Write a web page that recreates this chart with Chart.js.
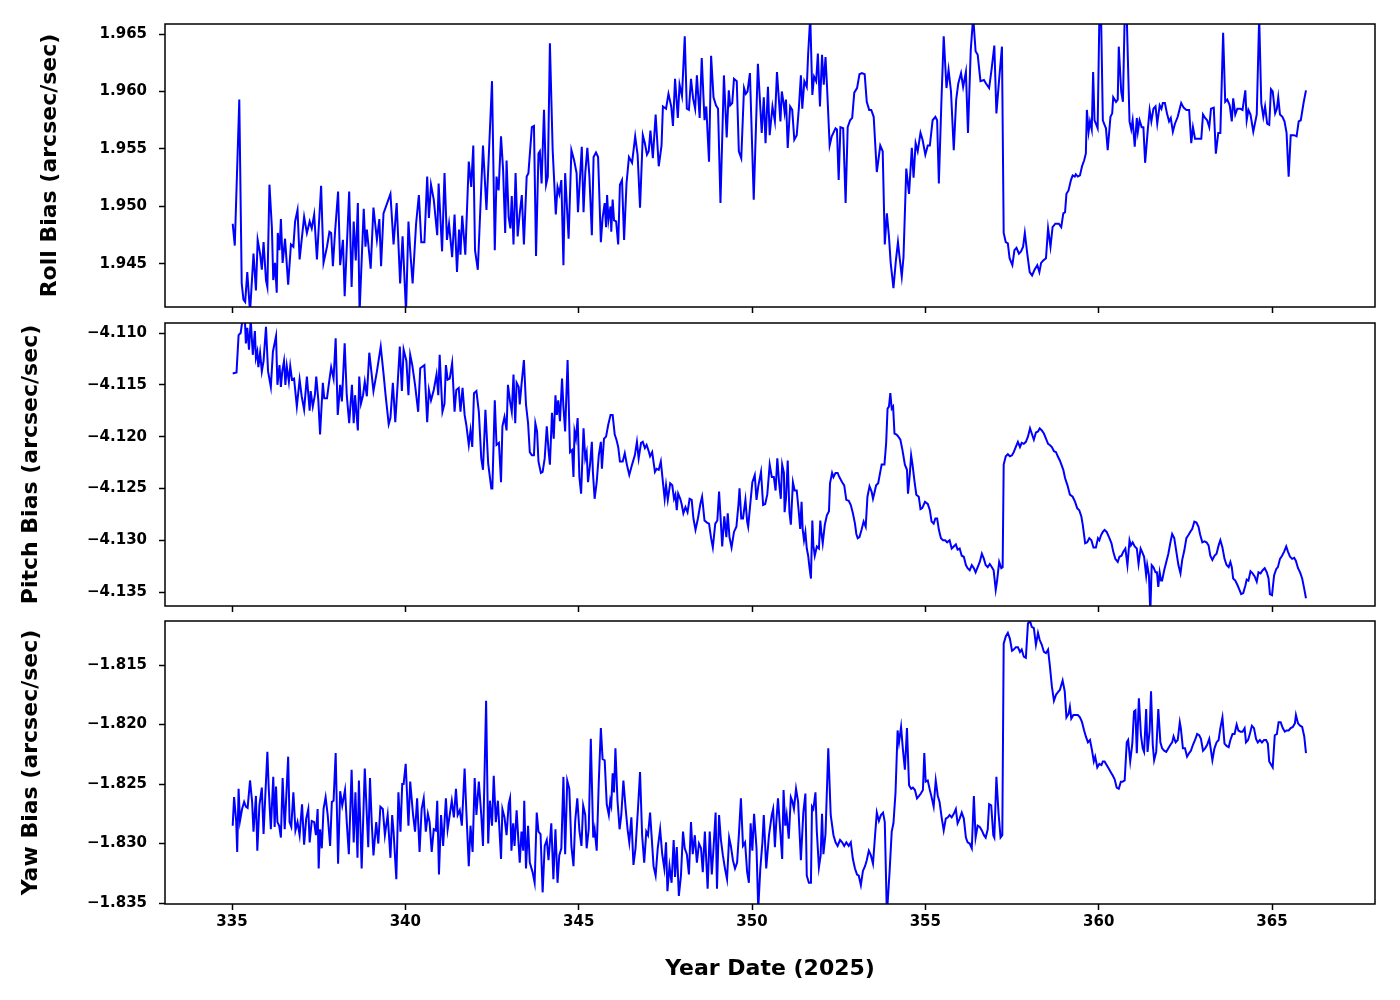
<!DOCTYPE html>
<html>
<head>
<meta charset="utf-8">
<title>Gyro Bias</title>
<script src="https://cdn.jsdelivr.net/npm/chart.js@4.4.1/dist/chart.umd.min.js"></script>
<style>
  html, body { margin: 0; padding: 0; background: #fff; }
  #wrap { position: relative; width: 1400px; height: 1000px; }
  #wrap canvas { position: absolute; left: 0; top: 0; }
</style>
</head>
<body>
<div id="wrap">
  <canvas id="rollChart" width="1400" height="1000"></canvas>
  <canvas id="pitchChart" width="1400" height="1000"></canvas>
  <canvas id="yawChart" width="1400" height="1000"></canvas>
</div>
<script>
// day of year (2025), bias value in arcsec/sec
const rollBias = [
  [335.02,1.9485],[335.08,1.9466],[335.21,1.9593],[335.28,1.9433],[335.33,1.9419],[335.38,1.9417],[335.44,1.9443],
  [335.52,1.9408],[335.62,1.9459],[335.69,1.9427],[335.74,1.9471],[335.81,1.9459],[335.86,1.9445],[335.91,1.9469],
  [335.98,1.9436],[336.02,1.9430],[336.08,1.9519],[336.15,1.9482],[336.19,1.9436],[336.24,1.9451],[336.29,1.9425],
  [336.32,1.9477],[336.37,1.9462],[336.41,1.9489],[336.46,1.9451],[336.53,1.9472],[336.62,1.9432],[336.70,1.9467],
  [336.77,1.9465],[336.82,1.9487],[336.89,1.9497],[336.95,1.9454],[337.08,1.9491],[337.16,1.9477],[337.24,1.9487],
  [337.30,1.9481],[337.37,1.9493],[337.45,1.9454],[337.57,1.9518],[337.64,1.9451],[337.74,1.9465],[337.81,1.9478],
  [337.86,1.9477],[337.91,1.9448],[337.97,1.9477],[338.06,1.9513],[338.12,1.9449],[338.20,1.9471],[338.25,1.9422],
  [338.38,1.9513],[338.45,1.9430],[338.51,1.9487],[338.57,1.9453],[338.63,1.9503],[338.68,1.9408],[338.80,1.9498],
  [338.85,1.9465],[338.89,1.9480],[339.00,1.9446],[339.08,1.9499],[339.18,1.9471],[339.25,1.9489],[339.30,1.9448],
  [339.37,1.9494],[339.57,1.9511],[339.66,1.9467],[339.75,1.9503],[339.85,1.9433],[339.92,1.9474],[340.02,1.9408],
  [340.09,1.9487],[340.14,1.9462],[340.21,1.9433],[340.31,1.9485],[340.39,1.9510],[340.46,1.9469],[340.55,1.9469],
  [340.63,1.9526],[340.68,1.9490],[340.74,1.9519],[340.82,1.9506],[340.92,1.9475],[340.96,1.9520],[341.06,1.9461],
  [341.13,1.9529],[341.20,1.9471],[341.26,1.9485],[341.35,1.9456],[341.42,1.9493],[341.49,1.9443],[341.55,1.9480],
  [341.59,1.9458],[341.64,1.9492],[341.73,1.9458],[341.83,1.9539],[341.90,1.9517],[341.96,1.9553],[342.01,1.9462],
  [342.09,1.9445],[342.24,1.9553],[342.34,1.9497],[342.50,1.9609],[342.58,1.9462],
  [342.63,1.9526],[342.69,1.9514],[342.76,1.9561],[342.82,1.9532],[342.88,1.9477],[342.92,1.9540],[342.98,1.9491],
  [343.03,1.9481],[343.07,1.9509],[343.12,1.9467],[343.18,1.9529],[343.24,1.9474],[343.30,1.9494],[343.36,1.9510],
  [343.42,1.9467],[343.50,1.9526],[343.55,1.9529],[343.65,1.9569],[343.71,1.9570],[343.77,1.9457],[343.84,1.9546],
  [343.88,1.9548],[343.93,1.9520],[344.00,1.9584],[344.06,1.9519],[344.11,1.9526],[344.17,1.9642],[344.25,1.9549],
  [344.34,1.9493],[344.39,1.9517],[344.44,1.9511],[344.50,1.9523],[344.56,1.9449],[344.61,1.9529],[344.71,1.9472],
  [344.79,1.9549],[344.87,1.9540],[344.94,1.9529],[344.98,1.9495],[345.09,1.9552],[345.14,1.9495],[345.19,1.9529],
  [345.25,1.9551],[345.31,1.9526],[345.38,1.9475],[345.43,1.9543],[345.50,1.9547],[345.56,1.9543],[345.64,1.9469],
  [345.69,1.9490],[345.75,1.9503],[345.79,1.9482],[345.82,1.9510],[345.86,1.9488],[345.92,1.9500],[345.94,1.9478],
  [345.98,1.9506],[346.02,1.9488],[346.08,1.9487],[346.14,1.9467],[346.19,1.9519],[346.25,1.9523],[346.31,1.9471],
  [346.38,1.9520],[346.45,1.9543],[346.54,1.9538],[346.63,1.9561],[346.70,1.9545],[346.77,1.9499],[346.85,1.9562],
  [346.91,1.9555],[346.97,1.9545],[347.02,1.9548],[347.07,1.9566],[347.14,1.9542],[347.22,1.9580],[347.31,1.9535],
  [347.39,1.9553],[347.43,1.9587],[347.52,1.9585],[347.59,1.9598],[347.67,1.9587],[347.72,1.9570],[347.78,1.9611],
  [347.86,1.9577],[347.91,1.9606],[347.98,1.9596],[348.06,1.9648],[348.12,1.9585],[348.18,1.9584],[348.24,1.9611],
  [348.30,1.9594],[348.36,1.9585],[348.41,1.9614],[348.49,1.9577],[348.55,1.9629],[348.63,1.9575],[348.68,1.9587],
  [348.76,1.9539],[348.82,1.9631],[348.89,1.9595],[348.96,1.9588],[349.02,1.9585],[349.09,1.9503],[349.19,1.9614],
  [349.27,1.9560],[349.33,1.9601],[349.37,1.9588],[349.43,1.9590],[349.48,1.9611],[349.56,1.9609],[349.62,1.9548],
  [349.69,1.9542],[349.77,1.9603],[349.82,1.9598],[349.87,1.9600],[349.94,1.9616],[350.05,1.9506],[350.17,1.9624],
  [350.28,1.9564],[350.34,1.9595],[350.39,1.9555],[350.46,1.9604],[350.51,1.9562],[350.59,1.9587],[350.66,1.9574],
  [350.72,1.9617],
  [350.82,1.9574],[350.86,1.9600],[350.91,1.9590],[350.94,1.9582],[350.98,1.9593],[351.03,1.9551],[351.10,1.9587],
  [351.16,1.9584],[351.22,1.9558],[351.29,1.9562],[351.35,1.9585],[351.41,1.9614],[351.45,1.9585],[351.51,1.9609],
  [351.58,1.9604],[351.62,1.9633],[351.68,1.9665],[351.74,1.9597],[351.79,1.9613],[351.85,1.9609],[351.90,1.9633],
  [351.96,1.9587],[352.02,1.9632],[352.07,1.9606],[352.12,1.9630],[352.16,1.9607],[352.24,1.9553],[352.30,1.9561],
  [352.41,1.9568],[352.45,1.9567],[352.50,1.9523],[352.55,1.9569],[352.63,1.9568],[352.70,1.9503],[352.76,1.9569],
  [352.83,1.9575],[352.89,1.9577],[352.95,1.9599],[353.03,1.9603],[353.10,1.9615],[353.17,1.9616],[353.25,1.9615],
  [353.31,1.9591],[353.38,1.9584],[353.44,1.9584],[353.51,1.9578],[353.60,1.9530],[353.70,1.9553],[353.77,1.9548],
  [353.83,1.9467],[353.89,1.9494],[353.95,1.9474],[354.00,1.9451],[354.08,1.9429],[354.15,1.9453],[354.21,1.9469],
  [354.26,1.9455],[354.32,1.9439],[354.37,1.9456],[354.45,1.9533],[354.53,1.9511],[354.61,1.9551],[354.66,1.9525],
  [354.72,1.9555],[354.78,1.9548],[354.86,1.9564],[354.92,1.9558],[355.00,1.9545],[355.07,1.9553],[355.13,1.9553],
  [355.21,1.9575],[355.29,1.9578],[355.34,1.9575],[355.39,1.9520],[355.46,1.9588],[355.53,1.9648],[355.61,1.9603],
  [355.67,1.9619],[355.74,1.9600],[355.82,1.9549],[355.89,1.9593],[355.95,1.9607],[356.03,1.9616],[356.09,1.9604],
  [356.17,1.9617],[356.23,1.9564],[356.31,1.9636],[356.38,1.9665],[356.45,1.9635],[356.51,1.9632],[356.59,1.9609],
  [356.69,1.9610],[356.75,1.9607],[356.84,1.9603],[356.91,1.9619],[356.99,1.9640],[357.05,1.9581],[357.13,1.9611],
  [357.21,1.9639],[357.26,1.9477],[357.32,1.9469],[357.38,1.9468],[357.43,1.9455],[357.51,1.9449],[357.57,1.9462],
  [357.63,1.9464],[357.70,1.9459],[357.76,1.9461],[357.82,1.9465],[357.87,1.9477],[357.94,1.9459],[358.01,1.9443],
  [358.08,1.9440],[358.15,1.9445],[358.23,1.9449],[358.29,1.9443],[358.34,1.9451],[358.40,1.9453],[358.48,1.9455],
  [358.54,1.9481],[358.61,1.9465],[358.67,1.9482],[358.75,1.9485],[358.85,1.9485],
  [358.92,1.9482],[358.98,1.9494],[359.03,1.9495],[359.07,1.9511],[359.13,1.9514],[359.20,1.9523],[359.25,1.9527],
  [359.31,1.9526],[359.34,1.9528],[359.40,1.9526],[359.46,1.9527],[359.52,1.9535],[359.58,1.9540],[359.63,1.9546],
  [359.66,1.9584],[359.71,1.9565],[359.75,1.9574],[359.80,1.9567],[359.84,1.9617],[359.88,1.9575],[359.92,1.9572],
  [359.97,1.9568],[360.02,1.9665],[360.07,1.9665],[360.12,1.9575],[360.17,1.9571],[360.21,1.9568],[360.26,1.9549],
  [360.34,1.9578],[360.39,1.9581],[360.42,1.9595],[360.50,1.9591],[360.55,1.9593],[360.58,1.9639],[360.65,1.9600],
  [360.70,1.9591],[360.75,1.9665],[360.81,1.9665],[360.89,1.9574],[360.94,1.9567],[360.98,1.9575],[361.04,1.9552],
  [361.10,1.9577],[361.13,1.9565],[361.18,1.9575],[361.24,1.9569],[361.29,1.9569],[361.34,1.9538],[361.42,1.9568],
  [361.47,1.9584],[361.52,1.9574],[361.58,1.9585],[361.64,1.9587],[361.69,1.9572],[361.76,1.9588],[361.81,1.9585],
  [361.85,1.9590],[361.91,1.9590],[361.97,1.9581],[362.03,1.9574],[362.08,1.9577],[362.14,1.9565],[362.20,1.9572],
  [362.28,1.9578],[362.38,1.9590],[362.45,1.9586],[362.53,1.9584],[362.61,1.9584],[362.67,1.9555],[362.72,1.9569],
  [362.78,1.9559],[362.84,1.9559],[362.96,1.9559],[363.01,1.9580],[363.07,1.9577],[363.13,1.9575],[363.19,1.9569],
  [363.24,1.9585],[363.32,1.9586],[363.38,1.9546],[363.45,1.9564],[363.51,1.9564],[363.59,1.9651],[363.65,1.9591],
  [363.71,1.9593],[363.78,1.9588],[363.84,1.9574],[363.88,1.9594],[363.94,1.9580],[364.00,1.9585],[364.09,1.9585],
  [364.15,1.9584],[364.23,1.9601],[364.27,1.9575],[364.32,1.9584],[364.38,1.9580],[364.46,1.9565],[364.52,1.9574],
  [364.56,1.9580],[364.63,1.9665],[364.69,1.9590],[364.75,1.9578],[364.80,1.9587],[364.86,1.9572],[364.92,1.9571],
  [364.97,1.9602],[365.02,1.9600],[365.09,1.9581],[365.14,1.9585],[365.18,1.9595],[365.23,1.9580],[365.30,1.9578],
  [365.36,1.9574],[365.42,1.9564],[365.48,1.9526],[365.54,1.9562],[365.64,1.9562],[365.71,1.9561],[365.77,1.9574],
  [365.83,1.9575],[365.91,1.9590],[365.98,1.9601]
];

const pitchBias = [
  [335.02,-4.1139],[335.13,-4.1138],[335.19,-4.1102],[335.25,-4.1100],[335.31,-4.1085],[335.37,-4.1086],[335.40,-4.1110],
  [335.44,-4.1095],[335.49,-4.1116],[335.54,-4.1087],[335.60,-4.1121],[335.66,-4.1098],[335.69,-4.1124],[335.73,-4.1118],
  [335.76,-4.1133],[335.81,-4.1119],[335.86,-4.1137],[335.91,-4.1127],[335.98,-4.1094],[336.04,-4.1137],[336.12,-4.1152],
  [336.18,-4.1118],[336.21,-4.1113],[336.27,-4.1103],[336.31,-4.1150],[336.37,-4.1131],[336.41,-4.1152],[336.45,-4.1137],
  [336.50,-4.1127],[336.54,-4.1150],[336.58,-4.1132],[336.64,-4.1147],[336.68,-4.1132],[336.73,-4.1145],[336.79,-4.1144],
  [336.87,-4.1171],[336.95,-4.1145],[337.01,-4.1161],[337.08,-4.1174],[337.16,-4.1142],[337.24,-4.1175],[337.27,-4.1156],
  [337.33,-4.1171],[337.39,-4.1160],[337.43,-4.1142],[337.49,-4.1165],[337.54,-4.1198],[337.62,-4.1148],[337.66,-4.1163],
  [337.74,-4.1163],[337.79,-4.1150],[337.86,-4.1133],[337.93,-4.1144],[337.99,-4.1105],[338.05,-4.1179],[338.12,-4.1150],
  [338.17,-4.1166],[338.25,-4.1110],[338.31,-4.1160],[338.38,-4.1187],[338.46,-4.1150],[338.51,-4.1187],[338.55,-4.1160],
  [338.63,-4.1194],[338.67,-4.1142],[338.72,-4.1168],[338.78,-4.1160],[338.83,-4.1147],[338.89,-4.1161],[338.96,-4.1119],
  [339.01,-4.1134],[339.08,-4.1156],[339.18,-4.1137],[339.29,-4.1113],[339.37,-4.1139],[339.43,-4.1160],[339.52,-4.1188],
  [339.57,-4.1182],[339.64,-4.1148],[339.71,-4.1186],[339.78,-4.1148],[339.84,-4.1113],[339.90,-4.1156],[339.95,-4.1116],
  [340.03,-4.1127],[340.09,-4.1160],[340.14,-4.1121],[340.20,-4.1131],[340.28,-4.1150],[340.37,-4.1176],[340.43,-4.1134],
  [340.55,-4.1131],[340.63,-4.1186],[340.68,-4.1155],[340.74,-4.1165],[340.82,-4.1155],[340.90,-4.1140],[340.95,-4.1160],
  [340.99,-4.1121],[341.07,-4.1176],[341.13,-4.1168],[341.17,-4.1131],[341.22,-4.1145],[341.28,-4.1144],[341.35,-4.1129],
  [341.42,-4.1176],[341.47,-4.1155],[341.54,-4.1153],[341.59,-4.1176],[341.65,-4.1153],[341.71,-4.1179],[341.76,-4.1189],
  [341.83,-4.1208],[341.88,-4.1194],[341.93,-4.1210],[341.98,-4.1158],[342.05,-4.1156],[342.12,-4.1176],[342.19,-4.1221],
  [342.24,-4.1232],[342.31,-4.1174],[342.39,-4.1226],[342.48,-4.1250],[342.51,-4.1250],[342.58,-4.1165],[342.63,-4.1208],
  [342.70,-4.1206],
  [342.76,-4.1244],[342.80,-4.1190],[342.86,-4.1181],[342.92,-4.1194],[342.96,-4.1150],[343.02,-4.1166],[343.07,-4.1176],
  [343.12,-4.1140],[343.17,-4.1187],[343.21,-4.1148],[343.27,-4.1152],[343.30,-4.1169],[343.35,-4.1150],[343.42,-4.1126],
  [343.48,-4.1169],[343.54,-4.1187],[343.59,-4.1215],[343.65,-4.1218],[343.71,-4.1218],[343.75,-4.1187],[343.80,-4.1195],
  [343.84,-4.1224],[343.91,-4.1235],[343.96,-4.1234],[344.02,-4.1221],[344.08,-4.1190],[344.13,-4.1213],[344.17,-4.1227],
  [344.23,-4.1177],[344.28,-4.1202],[344.33,-4.1160],[344.37,-4.1179],[344.41,-4.1165],[344.46,-4.1185],[344.52,-4.1144],
  [344.56,-4.1171],[344.61,-4.1195],[344.68,-4.1126],[344.75,-4.1215],[344.81,-4.1213],[344.85,-4.1239],[344.88,-4.1195],
  [344.92,-4.1202],[344.97,-4.1182],[345.02,-4.1239],[345.07,-4.1255],[345.14,-4.1192],[345.19,-4.1221],[345.23,-4.1215],
  [345.27,-4.1244],[345.33,-4.1226],[345.38,-4.1205],[345.41,-4.1234],[345.46,-4.1260],[345.52,-4.1244],[345.58,-4.1218],
  [345.64,-4.1205],[345.67,-4.1231],[345.73,-4.1202],[345.79,-4.1200],[345.85,-4.1189],[345.92,-4.1179],[345.98,-4.1179],
  [346.04,-4.1198],[346.09,-4.1203],[346.14,-4.1210],[346.19,-4.1224],[346.27,-4.1224],[346.33,-4.1216],[346.39,-4.1227],
  [346.46,-4.1237],[346.54,-4.1227],[346.62,-4.1218],[346.68,-4.1205],[346.73,-4.1221],[346.80,-4.1206],[346.85,-4.1205],
  [346.91,-4.1211],[346.96,-4.1208],[347.01,-4.1213],[347.06,-4.1219],[347.12,-4.1215],[347.20,-4.1234],[347.25,-4.1231],
  [347.31,-4.1232],[347.37,-4.1224],[347.43,-4.1244],[347.48,-4.1260],[347.52,-4.1247],[347.57,-4.1261],[347.64,-4.1245],
  [347.70,-4.1247],[347.75,-4.1260],[347.79,-4.1256],[347.83,-4.1271],[347.87,-4.1255],[347.93,-4.1260],[347.97,-4.1265],
  [348.02,-4.1274],[348.08,-4.1268],[348.14,-4.1273],[348.20,-4.1260],[348.26,-4.1261],[348.31,-4.1279],[348.37,-4.1290],
  [348.44,-4.1279],[348.51,-4.1265],[348.56,-4.1258],[348.63,-4.1281],[348.70,-4.1283],[348.76,-4.1284],[348.82,-4.1298],
  [348.87,-4.1307],[348.94,-4.1284],[349.00,-4.1281],[349.05,-4.1253],[349.10,-4.1282],[349.14,-4.1306],[349.20,-4.1277],
  [349.26,-4.1297],[349.30,-4.1274],[349.35,-4.1297],[349.41,-4.1307],[349.48,-4.1292],[349.55,-4.1287],[349.61,-4.1265],
  [349.64,-4.1250],[349.69,-4.1279],[349.74,-4.1279],[349.81,-4.1261],[349.86,-4.1282],[349.89,-4.1287],[349.95,-4.1265],
  [350.01,-4.1244],[350.08,-4.1237],[350.13,-4.1261],[350.18,-4.1248],[350.26,-4.1234],[350.32,-4.1266],[350.38,-4.1265],
  [350.44,-4.1256],[350.51,-4.1227],[350.57,-4.1239],[350.63,-4.1239],[350.68,-4.1252],[350.73,-4.1221],[350.78,-4.1244],
  [350.83,-4.1260],[350.87,-4.1227],[350.92,-4.1235],[350.94,-4.1273],[350.98,-4.1260],[351.03,-4.1223],[351.08,-4.1273],
  [351.12,-4.1285],[351.18,-4.1244],[351.23,-4.1252],[351.29,-4.1252],[351.35,-4.1273],[351.39,-4.1289],[351.43,-4.1263],
  [351.46,-4.1289],[351.50,-4.1300],[351.54,-4.1292],[351.58,-4.1308],[351.62,-4.1315],[351.66,-4.1327],[351.70,-4.1337],
  [351.74,-4.1281],[351.77,-4.1305],[351.81,-4.1315],[351.87,-4.1306],[351.93,-4.1308],[351.97,-4.1281],[352.00,-4.1292],
  [352.04,-4.1303],[352.10,-4.1285],[352.16,-4.1276],[352.22,-4.1272],[352.25,-4.1245],[352.31,-4.1235],[352.35,-4.1239],
  [352.41,-4.1235],[352.47,-4.1235],[352.52,-4.1239],[352.60,-4.1244],[352.66,-4.1247],[352.72,-4.1261],[352.79,-4.1262],
  [352.85,-4.1266],[352.91,-4.1274],[352.97,-4.1284],[353.01,-4.1294],[353.05,-4.1298],[353.10,-4.1297],[353.16,-4.1290],
  [353.22,-4.1282],[353.28,-4.1287],[353.33,-4.1258],[353.39,-4.1248],[353.45,-4.1253],[353.49,-4.1260],[353.54,-4.1253],
  [353.58,-4.1247],[353.64,-4.1245],[353.70,-4.1234],[353.74,-4.1227],[353.82,-4.1227],[353.87,-4.1206],[353.91,-4.1173],
  [353.95,-4.1171],[353.99,-4.1158],[354.03,-4.1173],[354.07,-4.1171],[354.11,-4.1197],[354.17,-4.1198],[354.22,-4.1200],
  [354.28,-4.1203],[354.34,-4.1213],[354.41,-4.1227],[354.47,-4.1232],[354.50,-4.1255],[354.55,-4.1237],[354.59,-4.1218],
  [354.63,-4.1227],[354.69,-4.1244],[354.74,-4.1256],[354.81,-4.1258],[354.86,-4.1270],[354.91,-4.1269],[354.99,-4.1263],
  [355.07,-4.1265],[355.13,-4.1271],[355.18,-4.1282],[355.24,-4.1284],[355.29,-4.1279],[355.34,-4.1279],[355.39,-4.1290],
  [355.45,-4.1298],[355.51,-4.1300],[355.57,-4.1300],[355.63,-4.1302],[355.70,-4.1300],[355.76,-4.1308],[355.82,-4.1306],
  [355.88,-4.1304],[355.93,-4.1309],[355.99,-4.1308],[356.05,-4.1315],[356.11,-4.1316],[356.17,-4.1324],[356.22,-4.1327],
  [356.28,-4.1329],[356.34,-4.1324],[356.40,-4.1327],[356.45,-4.1331],[356.51,-4.1326],[356.57,-4.1321],[356.63,-4.1313],
  [356.69,-4.1318],[356.74,-4.1324],[356.80,-4.1326],[356.86,-4.1323],[356.92,-4.1326],[356.97,-4.1329],[357.03,-4.1348],
  [357.07,-4.1339],[357.13,-4.1321],[357.19,-4.1327],[357.23,-4.1326],[357.26,-4.1227],[357.32,-4.1219],[357.38,-4.1217],
  [357.44,-4.1219],[357.50,-4.1218],[357.55,-4.1215],[357.61,-4.1210],[357.67,-4.1205],[357.73,-4.1210],[357.78,-4.1206],
  [357.84,-4.1207],[357.90,-4.1205],[357.96,-4.1200],[358.02,-4.1192],[358.07,-4.1197],[358.13,-4.1203],[358.19,-4.1196],
  [358.25,-4.1195],[358.30,-4.1192],[358.36,-4.1194],[358.42,-4.1197],[358.48,-4.1202],[358.54,-4.1207],[358.59,-4.1208],
  [358.65,-4.1210],[358.71,-4.1214],[358.77,-4.1215],[358.82,-4.1219],[358.88,-4.1223],
  [358.98,-4.1232],[359.03,-4.1240],[359.10,-4.1247],[359.17,-4.1256],[359.25,-4.1258],[359.32,-4.1263],[359.38,-4.1269],
  [359.44,-4.1271],[359.50,-4.1277],[359.54,-4.1285],[359.58,-4.1295],[359.61,-4.1303],[359.67,-4.1302],[359.73,-4.1298],
  [359.79,-4.1300],[359.85,-4.1307],[359.92,-4.1307],[359.98,-4.1298],[360.02,-4.1300],[360.07,-4.1295],[360.12,-4.1292],
  [360.17,-4.1290],[360.23,-4.1292],[360.31,-4.1298],[360.37,-4.1303],[360.42,-4.1311],[360.48,-4.1318],[360.55,-4.1321],
  [360.60,-4.1316],[360.66,-4.1315],[360.71,-4.1311],[360.77,-4.1308],[360.83,-4.1324],[360.89,-4.1300],[360.93,-4.1305],
  [360.98,-4.1302],[361.04,-4.1306],[361.10,-4.1308],[361.15,-4.1323],[361.21,-4.1308],[361.25,-4.1311],[361.31,-4.1316],
  [361.37,-4.1334],[361.40,-4.1324],[361.45,-4.1334],[361.49,-4.1370],[361.53,-4.1324],[361.58,-4.1326],[361.64,-4.1331],
  [361.68,-4.1331],[361.72,-4.1345],[361.76,-4.1331],[361.80,-4.1339],[361.83,-4.1339],[361.89,-4.1329],[361.95,-4.1321],
  [362.01,-4.1313],[362.07,-4.1302],[362.12,-4.1294],[362.18,-4.1298],[362.24,-4.1311],[362.30,-4.1324],[362.36,-4.1332],
  [362.41,-4.1319],[362.47,-4.1310],[362.53,-4.1298],[362.59,-4.1295],[362.64,-4.1292],[362.70,-4.1289],[362.76,-4.1282],
  [362.82,-4.1283],[362.88,-4.1287],[362.93,-4.1295],[362.99,-4.1302],[363.05,-4.1301],[363.11,-4.1302],[363.17,-4.1305],
  [363.22,-4.1315],[363.28,-4.1319],[363.34,-4.1315],[363.40,-4.1313],[363.46,-4.1305],[363.51,-4.1300],[363.57,-4.1307],
  [363.63,-4.1318],[363.69,-4.1324],[363.75,-4.1326],[363.80,-4.1321],[363.84,-4.1326],[363.88,-4.1337],[363.94,-4.1339],
  [364.00,-4.1343],[364.05,-4.1347],[364.11,-4.1352],[364.17,-4.1351],[364.23,-4.1344],[364.27,-4.1338],[364.32,-4.1339],
  [364.38,-4.1330],[364.44,-4.1332],[364.50,-4.1335],[364.56,-4.1340],[364.61,-4.1331],[364.67,-4.1332],[364.73,-4.1329],
  [364.79,-4.1327],[364.85,-4.1331],[364.90,-4.1337],[364.94,-4.1352],[365.00,-4.1353],[365.06,-4.1334],[365.12,-4.1328],
  [365.17,-4.1326],[365.23,-4.1318],[365.29,-4.1315],[365.35,-4.1311],[365.41,-4.1306],[365.46,-4.1311],[365.52,-4.1316],
  [365.58,-4.1318],[365.64,-4.1317],[365.69,-4.1320],[365.75,-4.1327],[365.81,-4.1331],[365.87,-4.1337],[365.93,-4.1347],
  [365.98,-4.1356]
];

const yawBias = [
  [335.02,-1.8285],[335.06,-1.8261],[335.12,-1.8281],[335.15,-1.8307],[335.19,-1.8254],[335.23,-1.8281],[335.29,-1.8271],
  [335.35,-1.8265],[335.40,-1.8269],[335.45,-1.8270],[335.52,-1.8247],[335.58,-1.8265],[335.62,-1.8290],[335.69,-1.8260],
  [335.73,-1.8306],[335.79,-1.8268],[335.86,-1.8253],[335.91,-1.8292],[335.96,-1.8260],[336.02,-1.8223],[336.06,-1.8254],
  [336.12,-1.8288],[336.19,-1.8244],[336.23,-1.8286],[336.27,-1.8252],[336.31,-1.8282],[336.36,-1.8285],[336.41,-1.8295],
  [336.46,-1.8245],[336.52,-1.8288],[336.62,-1.8227],[336.66,-1.8282],[336.71,-1.8286],[336.77,-1.8257],[336.83,-1.8289],
  [336.89,-1.8282],[336.95,-1.8293],[337.02,-1.8267],[337.08,-1.8301],[337.14,-1.8279],[337.20,-1.8271],[337.24,-1.8299],
  [337.30,-1.8281],[337.37,-1.8282],[337.42,-1.8293],[337.47,-1.8271],[337.50,-1.8321],[337.54,-1.8288],[337.59,-1.8304],
  [337.64,-1.8271],[337.70,-1.8261],[337.76,-1.8276],[337.83,-1.8302],[337.88,-1.8265],[337.93,-1.8264],[337.99,-1.8224],
  [338.06,-1.8317],[338.12,-1.8256],[338.18,-1.8268],[338.26,-1.8255],[338.31,-1.8282],[338.37,-1.8309],[338.45,-1.8238],
  [338.51,-1.8299],[338.56,-1.8257],[338.62,-1.8312],[338.66,-1.8247],[338.70,-1.8282],[338.74,-1.8321],[338.83,-1.8237],
  [338.93,-1.8303],[338.98,-1.8245],[339.03,-1.8282],[339.08,-1.8310],[339.16,-1.8282],[339.22,-1.8300],[339.28,-1.8269],
  [339.35,-1.8271],[339.41,-1.8293],[339.49,-1.8276],[339.57,-1.8312],[339.62,-1.8276],[339.66,-1.8290],[339.74,-1.8330],
  [339.80,-1.8257],[339.86,-1.8290],[339.91,-1.8250],[339.95,-1.8250],[340.01,-1.8233],[340.09,-1.8285],[340.14,-1.8248],
  [340.22,-1.8275],[340.28,-1.8290],[340.34,-1.8262],[340.41,-1.8307],[340.47,-1.8271],[340.53,-1.8262],[340.59,-1.8290],
  [340.65,-1.8275],[340.70,-1.8282],[340.76,-1.8307],[340.82,-1.8288],[340.88,-1.8289],[340.92,-1.8264],[340.97,-1.8326],
  [341.03,-1.8276],[341.09,-1.8302],[341.17,-1.8262],[341.22,-1.8288],[341.28,-1.8276],[341.34,-1.8264],[341.40,-1.8278],
  [341.46,-1.8254],[341.51,-1.8276],[341.57,-1.8272],[341.63,-1.8285],[341.71,-1.8237],[341.76,-1.8273],[341.83,-1.8319],
  [341.88,-1.8285],[341.94,-1.8307],[342.00,-1.8245],[342.05,-1.8276],[342.12,-1.8248],[342.19,-1.8276],[342.24,-1.8302],
  [342.33,-1.8180],[342.39,-1.8300],[342.44,-1.8264],[342.50,-1.8285],[342.55,-1.8243],[342.61,-1.8282],[342.67,-1.8264],
  [342.76,-1.8313],[342.80,-1.8271],[342.86,-1.8278],[342.92,-1.8293],[342.98,-1.8267],[343.02,-1.8262],[343.06,-1.8306],
  [343.11,-1.8283],[343.15,-1.8302],[343.21,-1.8272],[343.27,-1.8302],[343.30,-1.8316],[343.35,-1.8290],[343.40,-1.8306],
  [343.43,-1.8264],[343.48,-1.8321],[343.54,-1.8285],[343.59,-1.8316],[343.67,-1.8324],[343.73,-1.8333],[343.79,-1.8274],
  [343.84,-1.8290],[343.90,-1.8292],[343.96,-1.8341],[344.02,-1.8302],[344.08,-1.8297],[344.13,-1.8314],[344.21,-1.8283],
  [344.27,-1.8330],[344.33,-1.8288],[344.39,-1.8333],[344.44,-1.8310],[344.50,-1.8304],[344.56,-1.8244],[344.61,-1.8309],
  [344.67,-1.8247],[344.73,-1.8254],[344.79,-1.8302],[344.85,-1.8319],[344.90,-1.8281],[344.96,-1.8262],[345.02,-1.8289],
  [345.08,-1.8302],[345.13,-1.8268],[345.19,-1.8276],[345.23,-1.8304],[345.29,-1.8288],[345.35,-1.8212],[345.42,-1.8295],
  [345.46,-1.8288],[345.52,-1.8306],[345.58,-1.8248],[345.64,-1.8203],[345.69,-1.8229],[345.75,-1.8230],[345.81,-1.8267],
  [345.87,-1.8276],[345.91,-1.8264],[345.94,-1.8268],[345.98,-1.8241],[346.02,-1.8257],[346.06,-1.8220],[346.12,-1.8264],
  [346.18,-1.8288],[346.23,-1.8276],[346.29,-1.8247],[346.35,-1.8269],[346.41,-1.8288],[346.46,-1.8299],[346.52,-1.8278],
  [346.58,-1.8318],[346.64,-1.8304],[346.71,-1.8271],[346.77,-1.8240],[346.83,-1.8293],[346.89,-1.8316],[346.95,-1.8290],
  [347.00,-1.8293],[347.06,-1.8274],[347.10,-1.8292],[347.16,-1.8319],[347.22,-1.8327],[347.28,-1.8304],[347.35,-1.8288],
  [347.41,-1.8309],[347.47,-1.8321],[347.52,-1.8299],[347.56,-1.8340],[347.62,-1.8319],[347.68,-1.8333],[347.74,-1.8297],
  [347.78,-1.8328],[347.83,-1.8303],[347.89,-1.8344],[347.95,-1.8327],[348.01,-1.8290],[348.06,-1.8304],[348.12,-1.8309],
  [348.18,-1.8326],[348.24,-1.8282],[348.29,-1.8309],[348.35,-1.8293],[348.41,-1.8316],[348.47,-1.8300],[348.53,-1.8304],
  [348.58,-1.8324],[348.64,-1.8290],[348.72,-1.8338],[348.78,-1.8290],[348.84,-1.8326],[348.89,-1.8304],[348.95,-1.8274],
  [348.99,-1.8338],[349.05,-1.8276],[349.10,-1.8296],[349.16,-1.8310],[349.22,-1.8321],[349.28,-1.8330],[349.34,-1.8295],
  [349.39,-1.8302],[349.45,-1.8314],[349.51,-1.8321],[349.57,-1.8316],[349.62,-1.8293],[349.68,-1.8262],[349.74,-1.8302],
  [349.80,-1.8299],[349.86,-1.8324],[349.91,-1.8333],[349.96,-1.8283],[350.01,-1.8306],[350.06,-1.8275],[350.13,-1.8304],
  [350.18,-1.8355],[350.24,-1.8321],[350.30,-1.8299],[350.34,-1.8276],[350.41,-1.8321],[350.49,-1.8293],[350.57,-1.8276],
  [350.61,-1.8271],[350.66,-1.8303],[350.70,-1.8282],[350.75,-1.8262],
  [350.87,-1.8313],[350.91,-1.8255],[350.96,-1.8285],[351.00,-1.8276],[351.06,-1.8296],[351.12,-1.8261],[351.16,-1.8264],
  [351.21,-1.8271],[351.27,-1.8254],[351.33,-1.8265],[351.41,-1.8314],[351.48,-1.8274],[351.54,-1.8258],[351.58,-1.8327],
  [351.64,-1.8333],[351.70,-1.8333],[351.73,-1.8269],[351.77,-1.8271],[351.83,-1.8257],[351.87,-1.8290],[351.93,-1.8320],
  [351.98,-1.8310],[352.02,-1.8275],[352.06,-1.8309],[352.12,-1.8292],[352.20,-1.8220],[352.27,-1.8276],[352.35,-1.8293],
  [352.41,-1.8299],[352.47,-1.8302],[352.54,-1.8297],[352.60,-1.8299],[352.66,-1.8302],[352.72,-1.8299],[352.79,-1.8302],
  [352.85,-1.8299],[352.91,-1.8313],[352.97,-1.8321],[353.03,-1.8326],[353.08,-1.8327],[353.14,-1.8335],[353.20,-1.8323],
  [353.26,-1.8319],[353.31,-1.8314],[353.37,-1.8306],[353.43,-1.8310],[353.49,-1.8317],[353.55,-1.8293],[353.60,-1.8274],
  [353.66,-1.8281],[353.72,-1.8276],[353.78,-1.8274],[353.83,-1.8282],[353.89,-1.8360],[353.97,-1.8323],[354.03,-1.8290],
  [354.08,-1.8283],[354.14,-1.8257],[354.20,-1.8205],[354.24,-1.8215],[354.30,-1.8202],[354.35,-1.8220],[354.41,-1.8238],
  [354.47,-1.8203],[354.53,-1.8251],[354.59,-1.8254],[354.64,-1.8253],[354.70,-1.8255],[354.76,-1.8262],[354.82,-1.8260],
  [354.87,-1.8258],[354.93,-1.8255],[354.97,-1.8224],[355.01,-1.8248],[355.07,-1.8247],[355.13,-1.8255],[355.18,-1.8261],
  [355.24,-1.8269],[355.30,-1.8247],[355.36,-1.8260],[355.41,-1.8265],[355.47,-1.8278],[355.53,-1.8289],[355.59,-1.8279],
  [355.65,-1.8278],[355.70,-1.8276],[355.76,-1.8278],[355.82,-1.8275],[355.88,-1.8271],[355.93,-1.8283],[355.99,-1.8279],
  [356.05,-1.8274],[356.11,-1.8279],[356.17,-1.8295],[356.22,-1.8299],[356.28,-1.8300],[356.34,-1.8304],[356.40,-1.8260],
  [356.45,-1.8295],[356.51,-1.8285],[356.57,-1.8286],[356.63,-1.8289],[356.69,-1.8293],[356.74,-1.8295],[356.80,-1.8288],
  [356.84,-1.8267],[356.90,-1.8268],[356.96,-1.8293],[356.99,-1.8295],[357.05,-1.8244],[357.11,-1.8274],[357.17,-1.8295],
  [357.22,-1.8293],[357.26,-1.8132],[357.32,-1.8126],[357.38,-1.8123],[357.44,-1.8128],[357.50,-1.8138],[357.55,-1.8137],
  [357.61,-1.8135],[357.67,-1.8135],[357.73,-1.8139],[357.78,-1.8137],[357.84,-1.8143],[357.90,-1.8144],[357.96,-1.8115],
  [358.02,-1.8113],[358.07,-1.8118],[358.13,-1.8119],[358.19,-1.8133],[358.25,-1.8123],[358.30,-1.8129],[358.36,-1.8133],
  [358.42,-1.8139],[358.48,-1.8140],[358.54,-1.8137],[358.59,-1.8150],[358.65,-1.8168],[358.71,-1.8180],[358.77,-1.8175],
  [358.82,-1.8173],[358.88,-1.8171],
  [358.96,-1.8163],[359.02,-1.8172],[359.07,-1.8194],[359.13,-1.8191],[359.17,-1.8185],[359.21,-1.8195],[359.27,-1.8192],
  [359.34,-1.8192],[359.40,-1.8192],[359.46,-1.8194],[359.52,-1.8198],[359.58,-1.8205],[359.63,-1.8210],[359.69,-1.8215],
  [359.75,-1.8213],[359.81,-1.8222],[359.86,-1.8231],[359.90,-1.8227],[359.96,-1.8236],[360.02,-1.8233],[360.08,-1.8234],
  [360.12,-1.8231],[360.17,-1.8231],[360.23,-1.8234],[360.29,-1.8237],[360.35,-1.8240],[360.41,-1.8243],[360.46,-1.8246],
  [360.52,-1.8253],[360.58,-1.8254],[360.64,-1.8248],[360.69,-1.8248],[360.75,-1.8247],[360.81,-1.8215],[360.85,-1.8213],
  [360.91,-1.8231],[360.97,-1.8216],[361.02,-1.8189],[361.06,-1.8188],[361.10,-1.8224],[361.16,-1.8178],[361.22,-1.8209],
  [361.27,-1.8220],[361.31,-1.8223],[361.37,-1.8187],[361.41,-1.8223],[361.47,-1.8205],[361.51,-1.8172],[361.56,-1.8217],
  [361.60,-1.8230],[361.66,-1.8223],[361.72,-1.8187],[361.78,-1.8215],[361.83,-1.8220],[361.89,-1.8222],[361.95,-1.8223],
  [362.01,-1.8220],[362.07,-1.8217],[362.12,-1.8215],[362.16,-1.8210],[362.22,-1.8215],[362.28,-1.8213],[362.34,-1.8198],
  [362.37,-1.8203],[362.43,-1.8220],[362.49,-1.8220],[362.55,-1.8227],[362.61,-1.8224],[362.66,-1.8222],[362.72,-1.8217],
  [362.78,-1.8213],[362.84,-1.8208],[362.90,-1.8209],[362.95,-1.8212],[363.01,-1.8222],[363.07,-1.8220],[363.13,-1.8217],
  [363.19,-1.8212],[363.24,-1.8222],[363.28,-1.8230],[363.34,-1.8220],[363.40,-1.8215],[363.46,-1.8213],[363.51,-1.8203],
  [363.57,-1.8194],[363.63,-1.8216],[363.69,-1.8218],[363.75,-1.8219],[363.80,-1.8213],[363.86,-1.8208],[363.92,-1.8208],
  [363.98,-1.8200],[364.03,-1.8205],[364.09,-1.8206],[364.15,-1.8206],[364.21,-1.8203],[364.25,-1.8215],[364.31,-1.8213],
  [364.36,-1.8208],[364.42,-1.8201],[364.48,-1.8203],[364.54,-1.8212],[364.59,-1.8215],[364.65,-1.8213],[364.71,-1.8215],
  [364.77,-1.8213],[364.83,-1.8213],[364.88,-1.8216],[364.92,-1.8231],[364.98,-1.8234],[365.02,-1.8236],[365.08,-1.8209],
  [365.14,-1.8208],[365.19,-1.8198],[365.25,-1.8198],[365.31,-1.8203],[365.37,-1.8206],[365.42,-1.8205],[365.48,-1.8205],
  [365.54,-1.8203],[365.60,-1.8202],[365.66,-1.8199],[365.69,-1.8192],[365.75,-1.8199],[365.81,-1.8201],[365.87,-1.8202],
  [365.93,-1.8210],[365.98,-1.8224]
];

const dayTicks = [335, 340, 345, 350, 355, 360, 365];
const rollTicks = [1.945, 1.950, 1.955, 1.960, 1.965];
const pitchTicks = [-4.135, -4.130, -4.125, -4.120, -4.115, -4.110];
const yawTicks = [-1.835, -1.830, -1.825, -1.820, -1.815];

const DAY_MIN = 333.067, DAY_MAX = 367.971;
const FONT = 'DejaVu Sans';
const TICK_FONT = { family: FONT, size: 15, weight: 'bold' };
const TITLE_FONT = { family: FONT, size: 22, weight: 'bold' };

const framePlugin = {
    id: 'frame',
    afterDraw(chart) {
        const { ctx, chartArea: a } = chart;
        ctx.save();
        ctx.strokeStyle = '#000';
        ctx.lineWidth = 1.5;
        ctx.strokeRect(a.left, a.top, a.right - a.left, a.bottom - a.top);
        ctx.restore();
    },
};

function fmt(v) {
    return v.toFixed(3).replace('-', '\u2212');
}

function makePanel(id, points, yTicks, yMin, yMax, p) {
    const tickGrid = { drawOnChartArea: false, drawTicks: true, tickLength: 6, tickWidth: 1.5, tickColor: '#000' };
    return new Chart(document.getElementById(id), {
        type: 'line',
        data: {
            datasets: [{
                data: points.map(([x, y]) => ({ x, y })),
                borderColor: '#0000ff',
                borderWidth: 2,
                pointRadius: 0,
                tension: 0,
                fill: false,
            }],
        },
        options: {
            responsive: false,
            animation: false,
            events: [],
            layout: { padding: { top: p.top, right: 25, bottom: p.bottom, left: 0 } },
            plugins: { legend: { display: false }, tooltip: { enabled: false } },
            scales: {
                x: {
                    type: 'linear',
                    min: DAY_MIN,
                    max: DAY_MAX,
                    afterBuildTicks: (ax) => { ax.ticks = dayTicks.map((v) => ({ value: v })); },
                    afterFit: (ax) => { ax.height = p.xHeight; ax.paddingLeft = 0; ax.paddingRight = 0; },
                    grid: tickGrid,
                    border: { display: false },
                    ticks: { display: p.xLabels, font: TICK_FONT, color: '#000', padding: 3, maxRotation: 0, autoSkip: false,
                             callback: (v) => String(v) },
                    title: p.xLabels
                        ? { display: true, text: 'Year Date (2025)', font: TITLE_FONT, color: '#000', padding: { top: 0, bottom: 18 } }
                        : { display: false },
                },
                y: {
                    type: 'linear',
                    min: yMin,
                    max: yMax,
                    afterBuildTicks: (ax) => { ax.ticks = yTicks.map((v) => ({ value: v })); },
                    afterFit: (ax) => { ax.width = 165; ax.paddingTop = 0; ax.paddingBottom = 0; },
                    grid: tickGrid,
                    border: { display: false },
                    ticks: { font: TICK_FONT, color: '#000', padding: 12, autoSkip: false, callback: (v) => fmt(v) },
                    title: { display: true, text: p.title, font: TITLE_FONT, color: '#000', padding: { top: p.titlePad, bottom: 0 } },
                },
            },
        },
        plugins: [framePlugin],
    });
}

makePanel('rollChart', rollBias, rollTicks, 1.94126, 1.96587,
    { top: 24, bottom: 681, xHeight: 12, xLabels: false, title: 'Roll Bias (arcsec/sec)', titlePad: 37 });
makePanel('pitchChart', pitchBias, pitchTicks, -4.13635, -4.10903,
    { top: 323, bottom: 382, xHeight: 12, xLabels: false, title: 'Pitch Bias (arcsec/sec)', titlePad: 18 });
makePanel('yawChart', yawBias, yawTicks, -1.83508, -1.81130,
    { top: 621, bottom: 0, xHeight: 96, xLabels: true, title: 'Yaw Bias (arcsec/sec)', titlePad: 18 });
</script>
</body>
</html>
